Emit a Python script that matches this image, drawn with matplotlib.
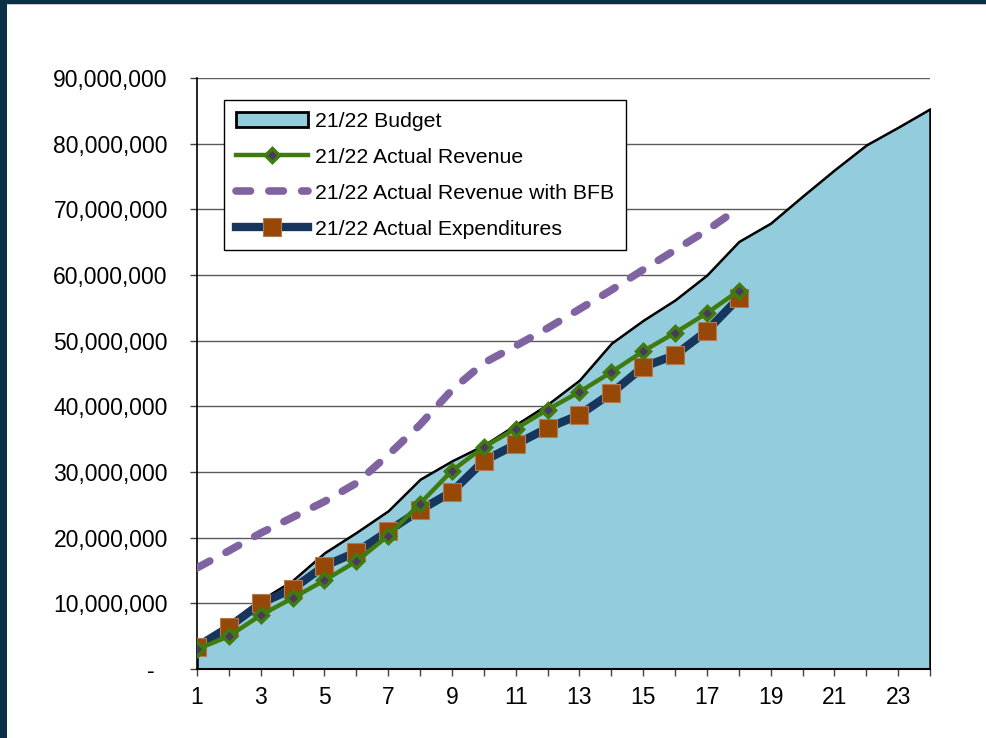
import matplotlib
matplotlib.use("Agg")
import matplotlib.pyplot as plt
from matplotlib.patches import Rectangle, Patch
from matplotlib.lines import Line2D
from matplotlib.ticker import FuncFormatter

plt.rcParams['font.family'] = ['Liberation Sans', 'DejaVu Sans']

periods = list(range(1, 25))
budget = [3.5e6, 7.0e6, 10.5e6, 13.5e6, 17.7e6, 20.8e6, 24.1e6, 28.9e6, 31.7e6, 34.1e6,
          37.2e6, 40.3e6, 44.0e6, 49.6e6, 53.1e6, 56.2e6, 60.0e6, 65.1e6, 67.9e6, 72.0e6,
          76.0e6, 79.8e6, 82.5e6, 85.3e6]
rev_periods = list(range(1, 19))
revenue = [3.0e6, 5.0e6, 8.2e6, 10.8e6, 13.5e6, 16.4e6, 20.3e6, 25.2e6, 30.2e6, 33.8e6,
           36.6e6, 39.5e6, 42.2e6, 45.2e6, 48.4e6, 51.2e6, 54.2e6, 57.6e6]
revenue_bfb = [15.4e6, 18.0e6, 20.7e6, 23.1e6, 25.5e6, 28.3e6, 32.6e6, 37.2e6, 42.5e6, 46.6e6,
               49.2e6, 51.9e6, 54.8e6, 57.7e6, 60.8e6, 63.8e6, 66.8e6, 70.2e6]
expenditures = [3.4e6, 6.4e6, 10.0e6, 12.2e6, 15.7e6, 17.8e6, 21.0e6, 24.2e6, 27.0e6, 31.7e6,
                34.2e6, 36.7e6, 38.7e6, 42.0e6, 46.0e6, 47.8e6, 51.5e6, 56.5e6]

labels = ['21/22 Budget', '21/22 Actual Revenue', '21/22 Actual Revenue with BFB',
          '21/22 Actual Expenditures']

W, H = 986, 738
fig = plt.figure(figsize=(W / 100, H / 100), dpi=100)
fig.patch.set_facecolor('white')

# dark frame at top and left
border = '#0B3046'
fig.patches.append(Rectangle((0, 1 - 4 / H), 1, 4 / H, transform=fig.transFigure,
                             facecolor=border, edgecolor='none', zorder=0))
fig.patches.append(Rectangle((0, 0), 7 / W, 1, transform=fig.transFigure,
                             facecolor=border, edgecolor='none', zorder=0))
fig.patches.append(Rectangle((7 / W, 1 - 5 / H), 1, 1 / H, transform=fig.transFigure,
                             facecolor='#C8C8C8', edgecolor='none', zorder=0))

ax = fig.add_axes([197 / W, 1 - 669 / H, (930 - 197) / W, (669 - 78) / H])

fill_c = '#93CDDD'
green = '#3F7B0E'
purple = '#8064A2'
navy = '#17365D'
brown = '#974806'

ax.fill_between(periods, budget, 0, facecolor=fill_c, edgecolor='black', linewidth=1.8, zorder=2)

bfb_style = dict(color=purple, lw=5.5, dashes=(1.9, 2.4), dash_capstyle='round')
exp_style = dict(color=navy, lw=6, marker='s', ms=12.5, markerfacecolor=brown,
                 markeredgecolor='#B07A52', markeredgewidth=0.8)
rev_style = dict(color=green, lw=3.2, marker='D', ms=7.5, markerfacecolor='#4B3A5E',
                 markeredgecolor=green, markeredgewidth=2.5)

ax.plot(rev_periods, revenue_bfb, zorder=3, **bfb_style)
ax.plot(rev_periods, expenditures, zorder=4, solid_joinstyle='round', **exp_style)
ax.plot(rev_periods, revenue, zorder=5, **rev_style)

ax.set_xlim(1, 24)
ax.set_ylim(0, 90e6)
ax.set_yticks([i * 10e6 for i in range(10)])
ax.yaxis.set_major_formatter(FuncFormatter(lambda v, p: '-  ' if v == 0 else f'{v:,.0f}'))
ax.set_xticks(periods)
ax.set_xticklabels([str(p) if p % 2 == 1 else '' for p in periods])

ax.grid(axis='y', color='#5A5A5A', lw=1.0, zorder=1)
ax.set_axisbelow(True)
for s in ['top', 'right']:
    ax.spines[s].set_visible(False)
ax.spines['left'].set_color('black')
ax.spines['bottom'].set_color('black')
ax.spines['left'].set_linewidth(1.2)
ax.spines['bottom'].set_linewidth(1.5)
ax.tick_params(axis='both', direction='out', length=5, width=1, color='#404040',
               labelsize=16.5, labelcolor='black')
ax.tick_params(axis='y', pad=16)
ax.tick_params(axis='x', pad=7)

handles = [
    Patch(facecolor=fill_c, edgecolor='black', linewidth=2),
    Line2D([], [], **rev_style),
    Line2D([], [], **bfb_style),
    Line2D([], [], **exp_style),
]
leg = ax.legend(handles, labels, loc='upper left',
                bbox_to_anchor=((224 - 197) / 733, (669 - 100) / 591),
                borderaxespad=0, fontsize=15.3, frameon=True, fancybox=False,
                edgecolor='black', framealpha=1, handlelength=3.4, handletextpad=0.35,
                labelspacing=0.8, borderpad=0.55)
leg.get_frame().set_linewidth(1.0)
leg.set_zorder(10)

fig.savefig('out.png', dpi=100)
